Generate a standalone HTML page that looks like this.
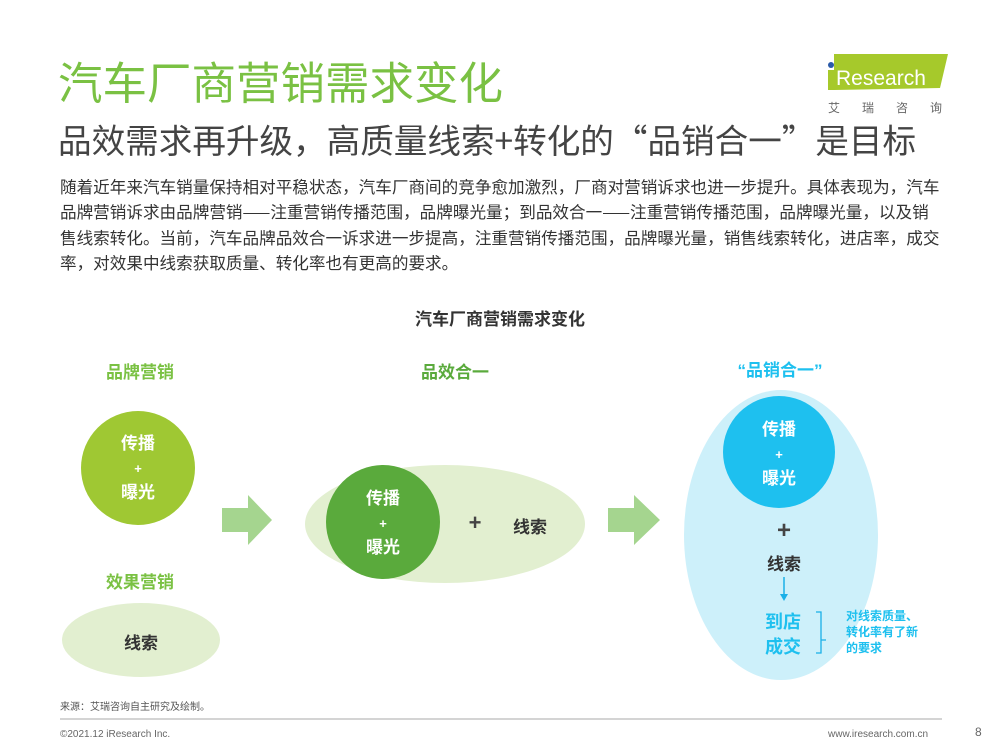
<!DOCTYPE html>
<html><head><meta charset="utf-8"><style>
body{margin:0;width:1000px;height:750px;background:#fff;position:relative;overflow:hidden;font-family:"Liberation Sans","Noto Sans CJK SC",sans-serif}
.a{position:absolute;white-space:nowrap}
.c{position:absolute;text-align:center;font-weight:bold}
.cjk{font-family:"Noto Sans CJK SC",sans-serif}
</style></head><body>
<div class="a" style="left:58px;top:57px;font-size:44.5px;color:#7ac143;line-height:56px">汽车厂商营销需求变化</div>
<div class="a cjk" style="left:58px;top:117px;font-size:33.6px;color:#444;line-height:44px">品效需求再升级，高质量线索+转化的“品销合一”是目标</div>
<div class="a cjk" style="left:60px;top:174px;font-size:16.6px;color:#333;line-height:25.3px">随着近年来汽车销量保持相对平稳状态，汽车厂商间的竞争愈加激烈，厂商对营销诉求也进一步提升。具体表现为，汽车<br>品牌营销诉求由品牌营销——注重营销传播范围，品牌曝光量；到品效合一——注重营销传播范围，品牌曝光量，以及销<br>售线索转化。当前，汽车品牌品效合一诉求进一步提高，注重营销传播范围，品牌曝光量，销售线索转化，进店率，成交<br>率，对效果中线索获取质量、转化率也有更高的要求。</div>
<!-- logo -->
<svg class="a" style="left:820px;top:50px" width="140" height="70">
<polygon points="14,4 128,4 120,38 14,40" fill="#a6c92b"/>
<rect x="8" y="20" width="6" height="20" fill="#a6c92b"/>
<circle cx="11" cy="15" r="3" fill="#2a5aa8"/>
<text x="16" y="35" font-size="21" fill="#fff" font-family="Liberation Sans">Research</text>
<text x="8" y="62" font-size="12" fill="#666" letter-spacing="22" font-family="Noto Sans CJK SC">艾瑞咨询</text>
</svg>
<div class="c" style="left:0;width:1000px;top:305px;font-size:17px;color:#333">汽车厂商营销需求变化</div>
<svg class="a" style="left:0;top:0" width="1000" height="750">
<circle cx="138" cy="468" r="57" fill="#9fc833"/>
<ellipse cx="141" cy="640" rx="79" ry="37" fill="#e2efd0"/>
<ellipse cx="445" cy="524" rx="140" ry="59" fill="#e2efd0"/>
<circle cx="383" cy="522" r="57" fill="#5aaa3c"/>
<ellipse cx="781" cy="535" rx="97" ry="145" fill="#cdf0fa"/>
<circle cx="779" cy="452" r="56" fill="#1ec0ef"/>
<polygon points="222,508 248,508 248,495 272,520 248,545 248,532 222,532" fill="#a5d58f"/>
<polygon points="608,508 634,508 634,495 660,520 634,545 634,532 608,532" fill="#a5d58f"/>
<line x1="784" y1="577" x2="784" y2="596" stroke="#1ab0e8" stroke-width="1.5"/>
<polygon points="780,594 788,594 784,601" fill="#1ab0e8"/>
<path d="M816,612 h5 v28 h5 M821,640 v13 h-5" fill="none" stroke="#1ab0e8" stroke-width="1.3"/>
<line x1="60" y1="719" x2="942" y2="719" stroke="#aaa" stroke-width="1"/>
</svg>
<div class="c" style="left:60px;width:160px;top:358px;font-size:17px;color:#7ac143">品牌营销</div>
<div class="c" style="left:60px;width:160px;top:568px;font-size:17px;color:#7ac143">效果营销</div>
<div class="c" style="left:375px;width:160px;top:358px;font-size:17px;color:#5aaa3c">品效合一</div>
<div class="c" style="left:700px;width:160px;top:356px;font-size:17px;color:#1ec0ef">“品销合一”</div>
<div class="c" style="left:81px;width:114px;top:432px;font-size:17px;color:#fff;line-height:24px">传播<br><span style="font-size:13px">+</span><br>曝光</div>
<div class="c" style="left:61px;width:160px;top:629px;font-size:17px;color:#333">线索</div>
<div class="c" style="left:326px;width:114px;top:487px;font-size:17px;color:#fff;line-height:24px">传播<br><span style="font-size:13px">+</span><br>曝光</div>
<div class="c" style="left:460px;width:30px;top:510px;font-size:22px;color:#444">+</div>
<div class="c" style="left:500px;width:60px;top:513px;font-size:17px;color:#333">线索</div>
<div class="c" style="left:723px;width:112px;top:418px;font-size:17px;color:#fff;line-height:24px">传播<br><span style="font-size:13px">+</span><br>曝光</div>
<div class="c" style="left:754px;width:60px;top:517px;font-size:24px;color:#444">+</div>
<div class="c" style="left:754px;width:60px;top:550px;font-size:17px;color:#333">线索</div>
<div class="c" style="left:748px;width:70px;top:610px;font-size:18px;color:#1ec0ef;line-height:25px">到店<br>成交</div>
<div class="a" style="left:846px;top:608px;font-size:12px;font-weight:bold;color:#1ec0ef;line-height:16px">对线索质量、<br>转化率有了新<br>的要求</div>
<div class="a" style="left:60px;top:698px;font-size:10px;color:#555">来源：艾瑞咨询自主研究及绘制。</div>
<div class="a" style="left:60px;top:729px;font-size:10px;color:#666">©2021.12 iResearch Inc.</div>
<div class="a" style="left:828px;top:729px;font-size:10px;color:#666">www.iresearch.com.cn</div>
<div class="a" style="left:975px;top:725px;font-size:12px;color:#666">8</div>
</body></html>
